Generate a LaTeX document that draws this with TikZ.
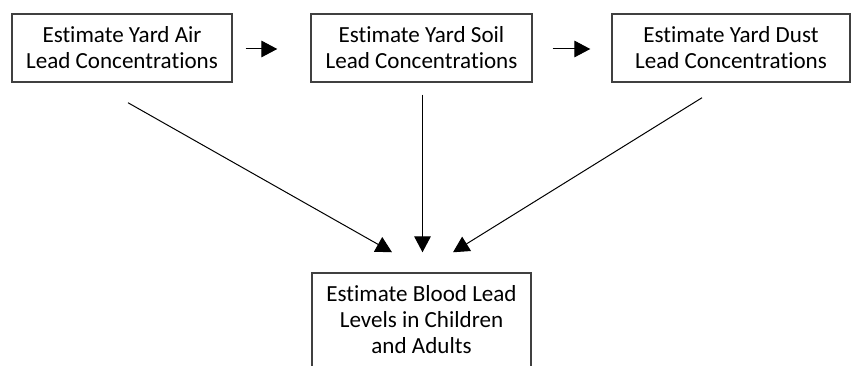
\documentclass[tikz,border=0pt]{standalone}
\usepackage{fontspec}
\setmainfont[Ligatures=NoCommon]{Carlito}
\usetikzlibrary{arrows.meta,calc}
\begin{document}
\begin{tikzpicture}[x=0.75pt, y=-0.75pt,
    est/.style={draw=black!75, line width=1.1pt, align=center, inner sep=0pt,
      minimum height=51pt, font=\fontsize{17.3}{19.5}\selectfont},
    arr/.style={line width=0.75pt, -{Triangle[length=12pt, width=12.5pt]}}]
  \useasboundingbox (0, 0) rectangle (852, 366) ;
  \clip (0, 0) rectangle (852, 366) ;

  \node[est, minimum width=165pt] (air) at (122, 48) {Estimate Yard Air\\Lead Concentrations} ;
  \node[est, minimum width=165.75pt] (soil) at (421.5, 48) {Estimate Yard Soil\\Lead Concentrations} ;
  \node[est, minimum width=178.5pt] (dust) at (731, 48) {Estimate Yard Dust\\Lead Concentrations} ;
  \node[est, minimum width=164.25pt, minimum height=70.5pt] (blood) at (421.5, 320) {Estimate Blood Lead\\Levels in Children\\and Adults} ;

  \draw[arr] ($(air.east) + (13, 1)$) -- ($(soil.west) + (-33, 1)$) ;
  \draw[arr] ($(soil.east) + (20, 1)$) -- ($(dust.west) + (-21, 1)$) ;

  \draw[arr] ($(air.south) + (6, 20)$) -- ($(blood.north) + (-29.5, -20)$) ;
  \draw[arr] ($(soil.south) + (1, 12)$) -- ($(blood.north) + (1, -20)$) ;
  \draw[arr] ($(dust.south) + (-29, 15)$) -- ($(blood.north) + (31.5, -20)$) ;
\end{tikzpicture}
\end{document}
